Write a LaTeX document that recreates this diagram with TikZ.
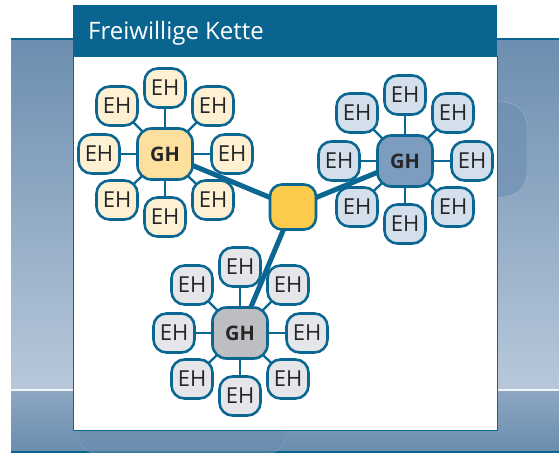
\documentclass[tikz,border=0pt]{standalone}
\usepackage{fontspec}
\setmainfont{Open Sans}
\definecolor{edge}{HTML}{0B6791}
\definecolor{titlebg}{HTML}{0A6490}
\definecolor{yEH}{HTML}{FDF0D3}
\definecolor{yGH}{HTML}{FDDF9E}
\definecolor{hubc}{HTML}{FDCB4C}
\definecolor{bEH}{HTML}{D3DFEA}
\definecolor{bGH}{HTML}{7C9DBF}
\definecolor{gEH}{HTML}{E4E6E9}
\definecolor{gGH}{HTML}{BCBEC1}
\definecolor{bgtop}{HTML}{6C8EB0}
\definecolor{bgmid}{HTML}{B8C8DA}
\definecolor{bglow}{HTML}{8DA7C2}
\definecolor{bgbot}{HTML}{6A8CAE}
\pgfdeclarelayer{back}
\pgfdeclarelayer{lines}
\pgfsetlayers{back,lines,main}
\begin{document}
\begin{tikzpicture}[x=1pt,y=-1pt,
  box/.style={draw=edge,line width=2.6pt,rounded corners=13pt,inner sep=0pt,
    text=black!85,font=\fontsize{22}{24}\selectfont},
  eh/.style={box,minimum width=41pt,minimum height=39pt},
  gh/.style={box,minimum width=55pt,minimum height=51pt,rounded corners=14pt,
    font=\fontsize{20}{24}\selectfont\bfseries},
  spoke/.style={draw=edge,line width=2.3pt},
  chain/.style={draw=edge,line width=5pt}]
\useasboundingbox (0,0) rectangle (559,453);
\begin{pgfonlayer}{back}
% background
\shade[top color=bgtop,bottom color=bgmid] (11,39) rectangle (559,390);
\shade[top color=bglow,bottom color=bgbot] (11,390) rectangle (559,452);
\draw[white!80!bgmid,line width=1.5pt] (11,390) -- (559,390);
\draw[titlebg,line width=2pt] (11,39) -- (559,39);
\draw[titlebg,line width=1.5pt] (11,452) -- (559,452);
\fill[bgtop,opacity=0.6,draw=white,draw opacity=0.3,rounded corners=24pt] (460,102) rectangle (527,197);
\fill[bgtop,opacity=0.55,draw=white,draw opacity=0.2,rounded corners=16pt] (79,400) rectangle (285,453);
% panel
\fill[titlebg] (73,5) rectangle (497,56);
\draw[fill=white,draw=edge,line width=1pt] (73,56) rectangle (497,430);
\end{pgfonlayer}
\node[anchor=base west,text=white,font=\fontsize{24}{28}\selectfont,inner sep=0pt] (title) at (88,39) {Freiwillige Kette};
% hub
\node[box,fill=hubc,minimum width=46pt,minimum height=45pt,rounded corners=12pt] (hub) at (293,207) {};
% clusters
\foreach \p/\cx/\cy/\fe/\fg in {y/165/154/yEH/yGH, b/405/161/bEH/bGH, g/240/333/gEH/gGH}{
  \node[gh,fill=\fg] (\p gh) at (\cx,\cy) {GH};
  \foreach \i/\dx/\dy in {1/0/-66,2/48/-48,3/67/0,4/48/46,5/0/63,6/-48/46,7/-66/0,8/-48/-48}{
    \node[eh,fill=\fe] (\p\i) at (\cx+\dx,\cy+\dy) {EH};
    \begin{pgfonlayer}{lines}
    \draw[spoke] (\p gh.center) -- (\p\i.center);
    \end{pgfonlayer}
  }
}
\begin{pgfonlayer}{lines}
\draw[chain] (ygh.center) -- (hub.center);
\draw[chain] (bgh.center) -- (hub.center);
\draw[chain] (ggh.center) -- (hub.center);
\end{pgfonlayer}
\end{tikzpicture}
\end{document}
